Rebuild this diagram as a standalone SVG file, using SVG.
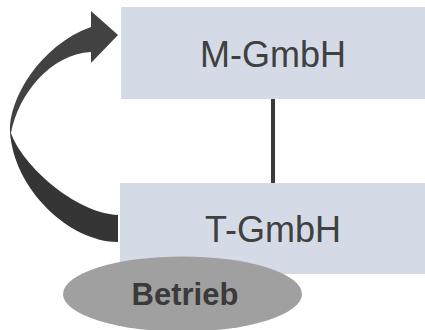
<svg xmlns="http://www.w3.org/2000/svg" width="425" height="330" viewBox="0 0 425 330">
  <style>
    .box { fill: #d4dbe6; }
    .label { font-family: "Liberation Sans", Arial, sans-serif; font-size: 36px; fill: #404040; text-anchor: middle; }
    .unit { fill: #a0a0a0; }
    .unit-label { font-family: "Liberation Sans", Arial, sans-serif; font-size: 31px; font-weight: bold; fill: #3a3a3a; text-anchor: middle; }
    .link { stroke: #3a3a3a; stroke-width: 4; fill: none; }
  </style>

  <!-- connectors -->
  <g id="connectors">
    <line class="link" x1="273" y1="99" x2="273" y2="183"/>
    <!-- curved arrow from T-GmbH back up to M-GmbH: lower band and upper band with head -->
    <g id="curved-arrow">
      <path fill="#353535" d="M118,242 C70,242 14,190 10,132 L11,133 C22,165 75,213 118,215 Z"/>
      <path fill="#424242" d="M10,132 C8,100 40,45 91,27 L91,11 L118,35 L91,63 L91,52 C50,54 18,95 11,133 Z"/>
    </g>
  </g>

  <g id="m-gmbh">
    <rect class="box" x="121" y="7" width="304" height="92"/>
    <text class="label" x="273" y="66.5">M-GmbH</text>
  </g>

  <g id="t-gmbh">
    <rect class="box" x="120" y="183" width="305" height="91"/>
    <text class="label" x="273" y="241.5">T-GmbH</text>
  </g>

  <g id="betrieb">
    <ellipse class="unit" cx="182.5" cy="294" rx="119.5" ry="37.5"/>
    <text class="unit-label" x="185" y="305">Betrieb</text>
  </g>
</svg>
